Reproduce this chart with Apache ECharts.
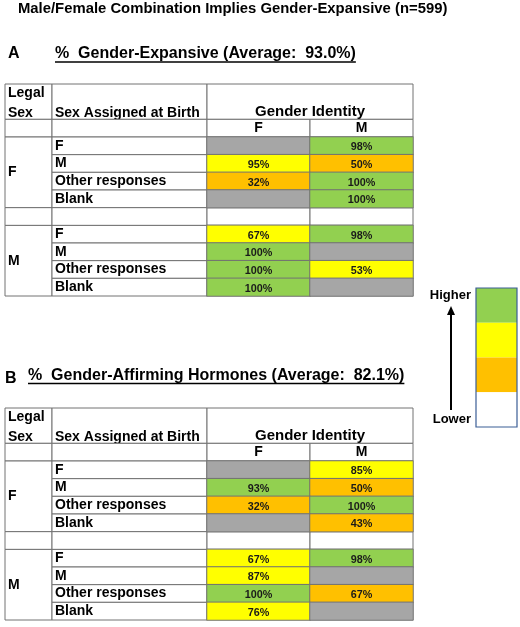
<!DOCTYPE html>
<html><head><meta charset="utf-8">
<script src="https://cdn.jsdelivr.net/npm/echarts@6/dist/echarts.min.js"></script>
<style>html,body{margin:0;padding:0;background:#fff}#c{width:520px;height:627px}</style>
</head><body><div id="c"></div>
<script>
// ---------------- data ----------------
const chartTitle = 'Male/Female Combination Implies Gender-Expansive (n=599)';
const panelLetters = ['A', 'B'];
const panelTitles = ['%  Gender-Expansive (Average:  93.0%)', '%  Gender-Affirming Hormones (Average:  82.1%)'];
const headerLabels = ['Legal\nSex', 'Sex Assigned at Birth', 'Gender Identity'];
const legalSex = ['F', 'M'];
const sexAssignedAtBirth = ['F', 'M', 'Other responses', 'Blank'];
const genderIdentity = ['F', 'M'];
// [legalSex][sexAssignedAtBirth][genderIdentity]; null = no respondents
const expansivePct = [
  [[null, 98], [95, 50], [32, 100], [null, 100]],
  [[67, 98], [100, null], [100, 53], [100, null]]
];
// rank on the Higher(3) .. Lower(0) scale, -1 = no respondents
const expansiveRank = [
  [[-1, 3], [2, 1], [1, 3], [-1, 3]],
  [[2, 3], [3, -1], [3, 2], [3, -1]]
];
const hormonePct = [
  [[null, 85], [93, 50], [32, 100], [null, 43]],
  [[67, 98], [87, null], [100, 67], [76, null]]
];
const hormoneRank = [
  [[-1, 2], [3, 1], [1, 3], [-1, 1]],
  [[2, 3], [2, -1], [3, 1], [2, -1]]
];
const legendLabels = ['Higher', 'Lower'];
const legendRanks = [3, 2, 1, 0];

// ---------------- styles / layout ----------------
const FONT = '"Liberation Sans", Arial, Helvetica, sans-serif';
const rankColor = { '3': '#92D050', '2': '#FFFF00', '1': '#FFC000', '0': '#FFFFFF', '-1': '#A6A6A6' };
const LINE = '#727272';
const colEdges = [5, 52, 207, 413];
const tableTops = [84, 408];
const tableH = 212;

const rowSlots = ['header', 'header (cont.)', 'subheader'];
legalSex.forEach((ls, i) => {
  if (i > 0) rowSlots.push('gap');
  sexAssignedAtBirth.forEach(s => rowSlots.push(ls + ' / ' + s));
});
const rowOf = (i, j) => rowSlots.indexOf(legalSex[i] + ' / ' + sexAssignedAtBirth[j]);
const gapRow = rowSlots.indexOf('gap');

// frame cells for the three column groups
const frameCells = [[], [], []];
frameCells[0].push({ x0: 0, x1: 0, y0: 0, y1: 1, text: headerLabels[0], role: 'stack' });
frameCells[0].push({ x0: 0, x1: 0, y0: 2, y1: 2, text: '', role: 'left' });
frameCells[1].push({ x0: 0, x1: 0, y0: 0, y1: 1, text: headerLabels[1], role: 'leftBottom' });
frameCells[1].push({ x0: 0, x1: 0, y0: 2, y1: 2, text: '', role: 'left' });
frameCells[2].push({ x0: 0, x1: genderIdentity.length - 1, y0: 0, y1: 1, text: headerLabels[2], role: 'centerBottom' });
genderIdentity.forEach((g, k) => frameCells[2].push({ x0: k, x1: k, y0: 2, y1: 2, text: g, role: 'center' }));
legalSex.forEach((ls, i) => {
  frameCells[0].push({ x0: 0, x1: 0, y0: rowOf(i, 0), y1: rowOf(i, sexAssignedAtBirth.length - 1), text: ls, role: 'left' });
  sexAssignedAtBirth.forEach((s, j) => frameCells[1].push({ x0: 0, x1: 0, y0: rowOf(i, j), y1: rowOf(i, j), text: s, role: 'left' }));
});
frameCells[0].push({ x0: 0, x1: 0, y0: gapRow, y1: gapRow, text: '', role: 'left' });
frameCells[1].push({ x0: 0, x1: 0, y0: gapRow, y1: gapRow, text: '', role: 'left' });
genderIdentity.forEach((g, k) => frameCells[2].push({ x0: k, x1: k, y0: gapRow, y1: gapRow, text: '', role: 'left' }));

function frameRenderer(cells) {
  return function (params, api) {
    const c = cells[params.dataIndex];
    const p0 = api.coord([c.x0, c.y0]);
    const p1 = api.coord([c.x1, c.y1]);
    const s = api.size([1, 1]);
    const x = p0[0] - s[0] / 2, y = p0[1] - s[1] / 2;
    const w = p1[0] - p0[0] + s[0], h = p1[1] - p0[1] + s[1];
    let tx = x + 3, ty = y + h / 2, align = 'left', size = 14;
    if (c.role === 'stack') ty = y + h / 2 + 1.5;
    if (c.role === 'leftBottom') ty = y + h - 6;
    if (c.role === 'centerBottom') { tx = x + w / 2; ty = y + h - 7; align = 'center'; size = 15; }
    if (c.role === 'center') { tx = x + w / 2; align = 'center'; }
    return {
      type: 'group',
      children: [
        { type: 'rect', shape: { x: x, y: y, width: w, height: h }, style: { fill: '#fff', stroke: LINE, lineWidth: 1 } },
        { type: 'text', style: { x: tx, y: ty, text: c.text, align: align, verticalAlign: 'middle',
          font: 'bold ' + size + 'px ' + FONT, fill: '#000', lineHeight: 19.5 } }
      ]
    };
  };
}

const grids = [], xAxes = [], yAxes = [], series = [];
const colLabels = [[headerLabels[0]], [headerLabels[1]], genderIdentity];
const panelPct = [expansivePct, hormonePct];
const panelRank = [expansiveRank, hormoneRank];
const heatIdx = [];
tableTops.forEach((top, t) => {
  for (let g = 0; g < 3; g++) {
    const gi = grids.length;
    grids.push({ left: colEdges[g], top: top, width: colEdges[g + 1] - colEdges[g], height: tableH });
    xAxes.push({ type: 'category', gridIndex: gi, data: colLabels[g], show: false });
    yAxes.push({ type: 'category', gridIndex: gi, data: rowSlots, inverse: true, show: false });
    series.push({
      type: 'custom', xAxisIndex: gi, yAxisIndex: gi, silent: true,
      data: frameCells[g].map((c, i) => [c.x0, c.y0, i]),
      renderItem: frameRenderer(frameCells[g])
    });
    if (g === 2) {
      const data = [];
      legalSex.forEach((ls, i) => sexAssignedAtBirth.forEach((s, j) => genderIdentity.forEach((gid, k) => {
        data.push([k, rowOf(i, j), panelRank[t][i][j][k], panelPct[t][i][j][k]]);
      })));
      heatIdx.push(series.length);
      series.push({
        type: 'heatmap', xAxisIndex: gi, yAxisIndex: gi, silent: true, data: data,
        itemStyle: { borderColor: LINE, borderWidth: 1 },
        label: { show: true, fontFamily: FONT, fontSize: 10.8, fontWeight: 'bold', color: '#1a1a1a', offset: [0, 1.5],
          formatter: p => (p.value[3] == null ? '' : p.value[3] + '%') },
        emphasis: { disabled: true }
      });
    }
  }
});

// ---------------- titles & legend ----------------
const meas = document.createElement('canvas').getContext('2d');
function textW(txt, font) { meas.font = font; return meas.measureText(txt).width; }
const titleFont = 'bold 16px ' + FONT;
const graphic = [
  { type: 'text', x: 18, y: 9, style: { text: chartTitle, font: 'bold 14.85px ' + FONT, fill: '#000', verticalAlign: 'middle' } },
];
const letterPos = [[8, 53.5], [5, 378.5]];
const titlePos = [[55, 54], [28, 375.5]];
panelLetters.forEach((L, t) => {
  graphic.push({ type: 'text', x: letterPos[t][0], y: letterPos[t][1], style: { text: L, font: 'bold 16px ' + FONT, fill: '#000', verticalAlign: 'middle' } });
  graphic.push({ type: 'text', x: titlePos[t][0], y: titlePos[t][1], style: { text: panelTitles[t], font: titleFont, fill: '#000', verticalAlign: 'middle' } });
  const w = textW(panelTitles[t], titleFont);
  graphic.push({ type: 'line', shape: { x1: titlePos[t][0], y1: titlePos[t][1] + 8, x2: titlePos[t][0] + w, y2: titlePos[t][1] + 8 }, style: { stroke: '#000', lineWidth: 1.5 } });
});
const lgX = 476, lgY = 288, lgW = 41, lgBand = 34.75;
legendRanks.forEach((r, i) => {
  graphic.push({ type: 'rect', shape: { x: lgX, y: lgY + i * lgBand, width: lgW, height: lgBand }, style: { fill: rankColor[String(r)] } });
});
graphic.push({ type: 'rect', shape: { x: lgX, y: lgY, width: lgW, height: lgBand * legendRanks.length }, style: { fill: 'none', stroke: '#3B5E96', lineWidth: 1.2 } });
graphic.push({ type: 'text', x: 471, y: 295, style: { text: legendLabels[0], font: 'bold 13px ' + FONT, fill: '#000', align: 'right', verticalAlign: 'middle' } });
graphic.push({ type: 'text', x: 471, y: 419.5, style: { text: legendLabels[1], font: 'bold 13px ' + FONT, fill: '#000', align: 'right', verticalAlign: 'middle' } });
graphic.push({ type: 'line', shape: { x1: 451, y1: 410, x2: 451, y2: 314 }, style: { stroke: '#000', lineWidth: 2 } });
graphic.push({ type: 'polygon', shape: { points: [[451, 306], [447, 315], [455, 315]] }, style: { fill: '#000' } });

const chart = echarts.init(document.getElementById('c'), null, { renderer: 'canvas' });
chart.setOption({
  animation: false,
  backgroundColor: '#fff',
  grid: grids, xAxis: xAxes, yAxis: yAxes,
  visualMap: {
    type: 'piecewise', show: false, dimension: 2, seriesIndex: heatIdx,
    pieces: [-1, 0, 1, 2, 3].map(r => ({ value: r, color: rankColor[String(r)] }))
  },
  series: series,
  graphic: graphic
});
</script></body></html>
